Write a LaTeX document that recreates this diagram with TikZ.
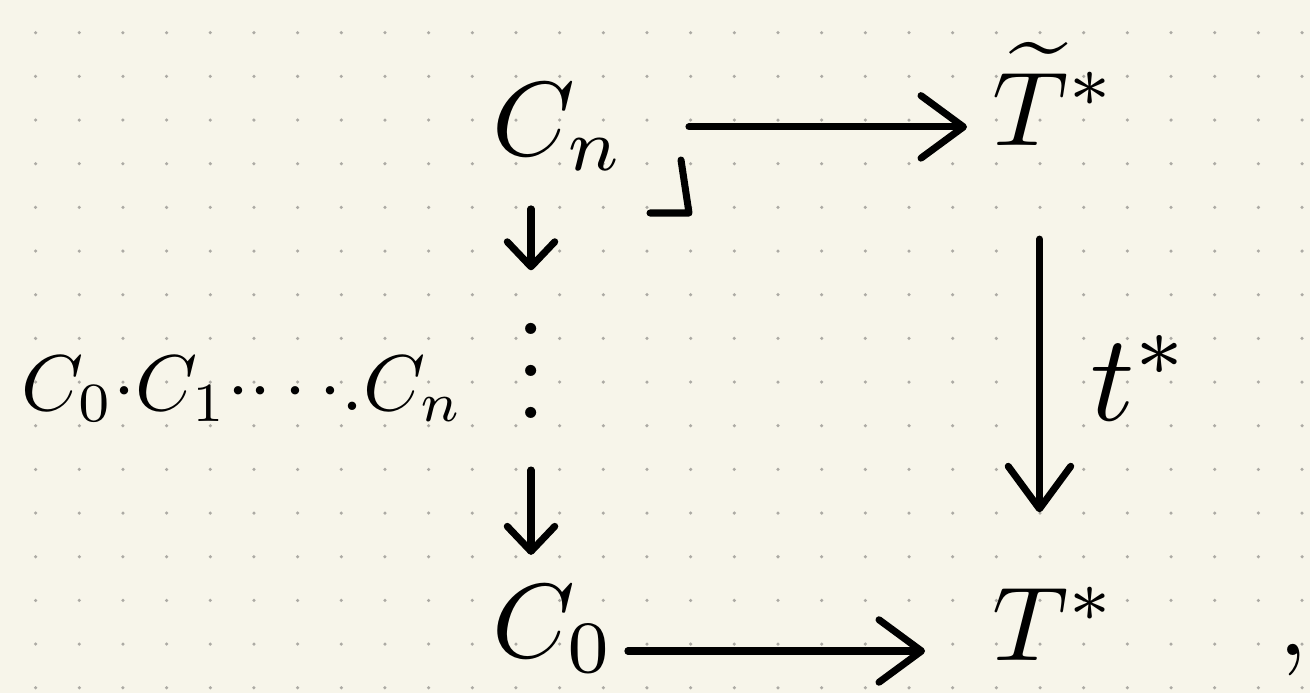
\documentclass[tikz,border=0pt]{standalone}
\usepackage{amsmath}
\usepackage{amssymb}
\usetikzlibrary{arrows.meta}
\definecolor{paper}{RGB}{247,245,234}
\definecolor{griddot}{RGB}{172,170,164}

\tikzset{
	ink/.style={line width=4pt, line cap=round, line join=round},
	cd/.style={ink, -{Straight Barb[length=0.85cm, width=1.25cm, round]}},
	cdshort/.style={ink, -{Straight Barb[length=0.5cm, width=0.95cm, round]}},
	obj/.style={scale=6, inner sep=0pt},
}

\begin{document}
\begin{tikzpicture}[x=0.02cm, y=-0.02cm]
	\useasboundingbox (0,0) rectangle (1310,693);
	\fill[paper] (0,0) rectangle (1310,693);
	% dotted paper
	\foreach \i in {0,...,29}
		\foreach \j in {0,...,15}
			\fill[griddot] (35.6+43.67*\i, 32.7+43.67*\j) circle (1pt);

	\node[obj, anchor=base west] (Cn) at (490,155) {$C_n$};
	\node[obj, anchor=base west] (Tt) at (990,145) {$\widetilde{T}^{*}$};
	\node[obj, anchor=base west] (Co) at (490,657) {$C_0$};
	\node[obj, anchor=base west] (T) at (990,660) {$T^{*}$};
	% tight vertical dots, no kern on top
	\node[obj, anchor=south] (vd) at (531,421) {\vbox{\baselineskip=4pt \lineskiplimit=0pt \hbox{.}\hbox{.}\hbox{.}}};
	\node[obj, scale=7/6, anchor=base west] (tl) at (1088,420) {$t^{*}$};
	\node[scale=4.5, inner sep=0pt, anchor=base west] (seq) at (20,410) {$C_0{\cdot}C_1{\cdot}{\cdots}{.}C_n$};
	\node[obj, anchor=base] (comma) at (1293,655) {$,$};

	\draw[cd, shorten <=1.24cm, shorten >=0.46cm] (Cn.east) -- (Cn.east -| Tt.west);
	\draw[cd, shorten <=0.22cm, shorten >=1.3cm] ([yshift=0.12cm]Co.base east) -- ([yshift=0.12cm]Co.base east -| T.west);
	\draw[cd, shorten <=1.84cm, shorten >=1.46cm] ([xshift=-0.3cm]Tt.south) -- ([xshift=-0.3cm]T.north);
	\draw[cdshort, shorten <=0.72cm, shorten >=1.02cm] (vd.north |- Cn.south) -- (vd.north);
	\draw[cdshort, shorten <=0.98cm, shorten >=0.56cm] (vd.south) -- (vd.south |- Co.north);
	% pullback corner
	\draw[ink] (650,213) -- (689,213) -- (681,160);
\end{tikzpicture}
\end{document}
